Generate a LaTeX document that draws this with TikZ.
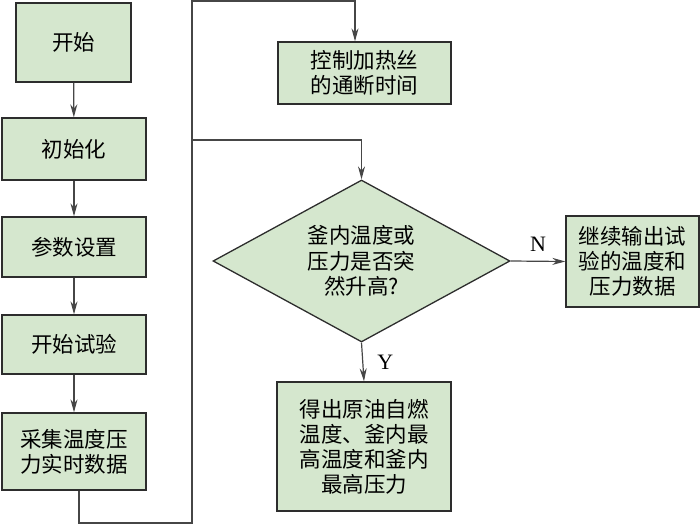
\documentclass[tikz,border=0pt]{standalone}
\usepackage{fontspec}
\setmainfont{Liberation Serif}
\newfontfamily\cjk{Noto Sans CJK SC}
\usetikzlibrary{shapes.geometric,arrows.meta}
\definecolor{boxfill}{RGB}{213,231,206}
\definecolor{edge}{RGB}{45,45,45}
\definecolor{wire}{RGB}{70,70,70}
\begin{document}
\begin{tikzpicture}[x=1pt,y=-1pt,
  box/.style={draw=edge,fill=boxfill,line width=1.3pt,rectangle,inner sep=0pt,
    font=\cjk\fontsize{21.5}{25}\selectfont,align=center},
  dia/.style={draw=edge,fill=boxfill,line width=1.3pt,diamond,aspect=1.833,inner sep=0pt,
    font=\cjk\fontsize{21.5}{25.5}\selectfont,align=center},
  wireline/.style={draw=wire,line width=1.2pt},
  arr/.style={wireline,-{Stealth[length=13pt,width=7pt]}},
  lab/.style={font=\fontsize{22}{22}\selectfont,inner sep=0pt}]
\useasboundingbox (0,0) rectangle (700,524);
\node[box,minimum width=115pt,minimum height=79pt] (b1) at (73.5,42.5) {开始};
\node[box,minimum width=144pt,minimum height=62pt] (b2) at (74,149) {初始化};
\node[box,minimum width=144pt,minimum height=60pt] (b3) at (74,247) {参数设置};
\node[box,minimum width=144pt,minimum height=59pt] (b4) at (74,344.5) {开始试验};
\node[box,minimum width=144pt,minimum height=77pt] (b5) at (74,451.5) {采集温度压\\力实时数据};
\node[box,minimum width=173pt,minimum height=62pt] (ctrl) at (364.5,73) {控制加热丝\\的通断时间};
\node[dia,minimum width=297pt,minimum height=162pt] (d) at (361.5,261) {釜内温度或\\压力是否突\\然升高?};
\node[box,minimum width=133pt,minimum height=91pt] (rb) at (632.5,261.5) {继续输出试\\验的温度和\\压力数据};
\node[box,minimum width=174pt,minimum height=129pt] (bb) at (364,446.5) {得出原油自燃\\温度、釜内最\\高温度和釜内\\最高压力};
\coordinate (c1) at (192,523);
\coordinate (c2) at (192,1);
\coordinate (c3) at (192,140);
\draw[arr] (b1) -- (b2);
\draw[arr] (b2) -- (b3);
\draw[arr] (b3) -- (b4);
\draw[arr] (b4) -- (b5);
\draw[arr] ([xshift=5pt]b5.south) |- (c1) -- (c2) -| ([xshift=-9.5pt]ctrl.north);
\draw[arr] (c3) -| (d.north);
\draw[arr] (d.east) -- (rb.west) node[lab,midway,above=9pt] (n) {N};
\draw[arr] (d.south) -- (bb.north) node[lab,midway,right=14pt] (y) {Y};
\end{tikzpicture}
\end{document}
